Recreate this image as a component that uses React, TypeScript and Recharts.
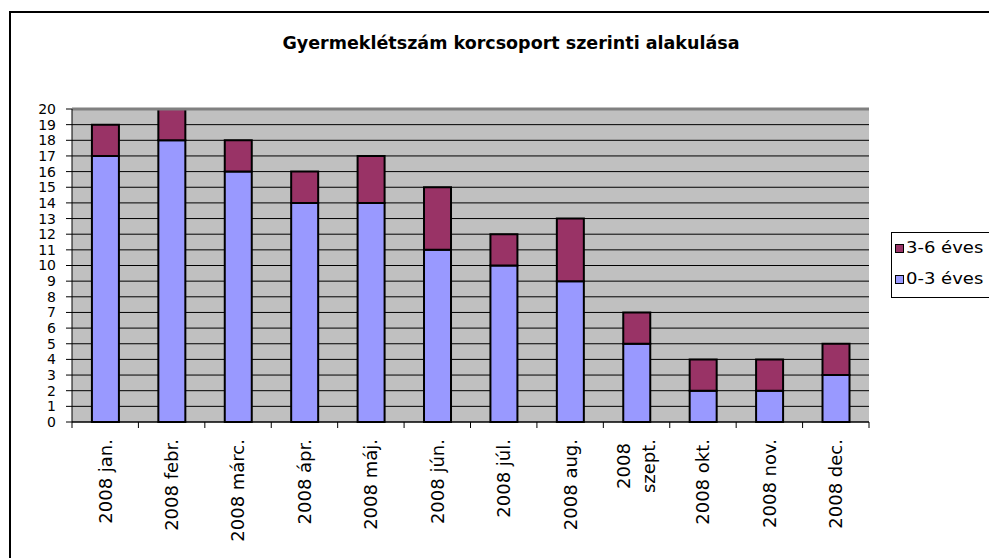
import React from "react";
import {
  BarChart,
  Bar,
  XAxis,
  YAxis,
  CartesianGrid,
  Legend,
  ReferenceLine,
} from "recharts";

const CATEGORIES = [
  "2008 jan.",
  "2008 febr.",
  "2008 márc.",
  "2008 ápr.",
  "2008 máj.",
  "2008 jún.",
  "2008 júl.",
  "2008 aug.",
  "2008 szept.",
  "2008 okt.",
  "2008 nov.",
  "2008 dec.",
];
const AGE_0_3 = [17, 18, 16, 14, 14, 11, 10, 9, 5, 2, 2, 3];
const AGE_3_6 = [2, 2, 2, 2, 3, 4, 2, 4, 2, 2, 2, 2];
const Y_TICKS = [0, 1, 2, 3, 4, 5, 6, 7, 8, 9, 10, 11, 12, 13, 14, 15, 16, 17, 18, 19, 20];
const TITLE = "Gyermeklétszám korcsoport szerinti alakulása";
const SERIES_0_3 = "0-3 éves";
const SERIES_3_6 = "3-6 éves";

const data = CATEGORIES.map((c, i) => ({
  name: c,
  a: AGE_0_3[i],
  b: AGE_3_6[i],
}));

const FONT = "'DejaVu Sans', sans-serif";

function XTick(props: any) {
  const { x, y, payload, index, width } = props;
  const band = (width || 797) / CATEGORIES.length;
  const axisY = y - 17;
  const label = String(payload.value);
  const lines = label.length > 10 ? label.split(" ") : [label];
  const left = x - band / 2;
  const right = x + band / 2;
  return (
    <g>
      <line x1={left} y1={axisY} x2={left} y2={axisY + 6} stroke="#000" strokeWidth={1} />
      {index === CATEGORIES.length - 1 && (
        <line x1={right} y1={axisY} x2={right} y2={axisY + 6} stroke="#000" strokeWidth={1} />
      )}
      {lines.length === 1 ? (
        <text
          x={x}
          y={y}
          transform={`rotate(-90 ${x} ${y})`}
          textAnchor="end"
          dy="0.355em"
          fontSize={18}
          fontFamily={FONT}
          fill="#000"
        >
          {label}
        </text>
      ) : (
        <text
          x={x}
          y={y + 27}
          transform={`rotate(-90 ${x} ${y + 27})`}
          textAnchor="middle"
          fontSize={18}
          fontFamily={FONT}
          fill="#000"
        >
          {lines.map((ln, i) => (
            <tspan
              key={i}
              x={x}
              dy={i === 0 ? `${0.355 * 18 - ((lines.length - 1) * 25) / 2}` : "25"}
            >
              {ln}
            </tspan>
          ))}
        </text>
      )}
    </g>
  );
}

function LegendBox(props: any) {
  const items = [...(props.payload || [])].reverse();
  return (
    <div
      style={{
        position: "relative",
        width: 200,
        height: 66,
        border: "1px solid #000",
        boxSizing: "border-box",
        background: "#fff",
        fontFamily: FONT,
      }}
    >
      {items.map((it: any, i: number) => (
        <div
          key={i}
          style={{
            position: "absolute",
            left: 3,
            top: 11 + i * 31,
            height: 9,
            width: 190,
          }}
        >
          <div
            style={{
              position: "absolute",
              left: 0,
              top: 0,
              width: 9,
              height: 9,
              boxSizing: "border-box",
              border: "1px solid #000",
              background: it.color,
            }}
          />
          <span
            style={{
              position: "absolute",
              left: 11,
              top: -5,
              fontSize: 15,
              lineHeight: "19px",
              whiteSpace: "nowrap",
              color: "#000",
              transform: "scaleX(1.2)",
              transformOrigin: "left center",
              display: "inline-block",
            }}
          >
            {it.value}
          </span>
        </div>
      ))}
    </div>
  );
}

export default function App() {
  return (
    <div
      style={{
        position: "relative",
        width: 989,
        height: 550,
        overflow: "hidden",
        background: "#fff",
        fontFamily: FONT,
      }}
    >
      <BarChart
        width={989}
        height={550}
        data={data}
        margin={{ top: 101, right: 128, bottom: 6, left: 4 }}
        barCategoryGap="30%"
      >
        <CartesianGrid
          vertical={false}
          stroke="#000"
          strokeWidth={1}
          fill="#C0C0C0"
          fillOpacity={1}
        />
        <ReferenceLine y={20} stroke="#808080" strokeWidth={3} />
        <XAxis
          dataKey="name"
          height={130}
          interval={0}
          tickLine={false}
          tickSize={6}
          tickMargin={11}
          axisLine={{ stroke: "#000", strokeWidth: 1 }}
          tick={<XTick />}
        />
        <YAxis
          width={60}
          domain={[0, 20]}
          ticks={Y_TICKS}
          interval={0}
          tickSize={6}
          tickMargin={10}
          axisLine={{ stroke: "#000", strokeWidth: 1 }}
          tickLine={{ stroke: "#000", strokeWidth: 1 }}
          tick={{ fontSize: 14, fontFamily: FONT, fill: "#000" }}
        />
        <YAxis
          yAxisId="right"
          orientation="right"
          width={0}
          domain={[0, 20]}
          tick={false}
          tickLine={false}
          axisLine={{ stroke: "#808080", strokeWidth: 3 }}
        />
        <Bar
          dataKey="a"
          name={SERIES_0_3}
          stackId="s"
          fill="#9999FF"
          stroke="#000"
          strokeWidth={2}
          isAnimationActive={false}
        />
        <Bar
          dataKey="b"
          name={SERIES_3_6}
          stackId="s"
          fill="#993366"
          stroke="#000"
          strokeWidth={2}
          isAnimationActive={false}
        />
        <Legend
          layout="vertical"
          align="center"
          verticalAlign="middle"
          content={<LegendBox />}
          wrapperStyle={{ position: "absolute", left: 883, top: 224, width: 200, height: 66 }}
        />
      </BarChart>
      <div
        style={{
          position: "absolute",
          left: 1,
          top: 3,
          width: 2000,
          height: 2000,
          borderLeft: "2px solid #000",
          borderTop: "2px solid #000",
          pointerEvents: "none",
        }}
      />
      <div
        style={{
          position: "absolute",
          left: 503,
          top: 27,
          transform: "translateX(-50%)",
          whiteSpace: "nowrap",
          fontSize: 17.5,
          lineHeight: "17px",
          fontWeight: "bold",
          fontFamily: FONT,
          color: "#000",
        }}
      >
        {TITLE}
      </div>
    </div>
  );
}
